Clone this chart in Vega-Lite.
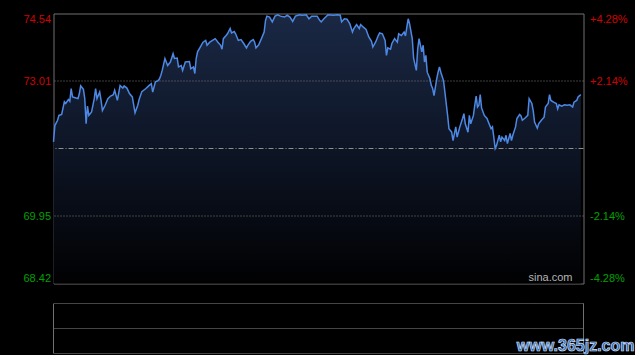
{
  "$schema": "https://vega.github.io/schema/vega-lite/v6.json",
  "background": "#000000",
  "padding": {"left": 21.5, "top": 10.5, "right": 0, "bottom": 0},
  "spacing": 20,
  "bounds": "flush",
  "config": {"font": "Liberation Sans"},
  "datasets": {
    "price": [
      {"t":0,"p":71.63},{"t":1,"p":72.00},{"t":3,"p":72.12},{"t":4,"p":72.23},{"t":6,"p":72.25},{"t":8,"p":72.54},{"t":9,"p":72.50},{"t":11,"p":72.59},{"t":12,"p":72.55},{"t":13,"p":72.84},{"t":14,"p":72.65},{"t":16,"p":72.63},{"t":18,"p":72.61},{"t":19,"p":72.72},{"t":20,"p":72.90},{"t":22,"p":72.82},{"t":23,"p":72.61},{"t":24,"p":72.04},{"t":25,"p":72.44},{"t":26,"p":72.23},{"t":28,"p":72.31},{"t":30,"p":72.61},{"t":31,"p":72.84},{"t":32,"p":72.61},{"t":34,"p":72.76},{"t":35,"p":72.57},{"t":36,"p":72.34},{"t":38,"p":72.46},{"t":40,"p":72.61},{"t":42,"p":72.67},{"t":44,"p":72.70},{"t":45,"p":72.80},{"t":47,"p":72.57},{"t":49,"p":72.91},{"t":51,"p":72.85},{"t":52,"p":72.90},{"t":54,"p":72.85},{"t":56,"p":72.72},{"t":58,"p":72.65},{"t":60,"p":72.29},{"t":62,"p":72.46},{"t":63,"p":72.59},{"t":65,"p":72.77},{"t":68,"p":72.84},{"t":70,"p":72.90},{"t":72,"p":72.95},{"t":73,"p":72.76},{"t":75,"p":72.99},{"t":77,"p":73.02},{"t":78,"p":73.06},{"t":79,"p":73.14},{"t":80,"p":73.25},{"t":82,"p":73.52},{"t":84,"p":73.36},{"t":86,"p":73.44},{"t":88,"p":73.63},{"t":89,"p":73.52},{"t":91,"p":73.53},{"t":92,"p":73.33},{"t":94,"p":73.36},{"t":95,"p":73.25},{"t":97,"p":73.44},{"t":100,"p":73.45},{"t":101,"p":73.29},{"t":103,"p":73.33},{"t":104,"p":73.18},{"t":105,"p":73.52},{"t":106,"p":73.67},{"t":108,"p":73.78},{"t":110,"p":73.89},{"t":112,"p":73.93},{"t":113,"p":73.82},{"t":115,"p":73.89},{"t":117,"p":73.93},{"t":119,"p":73.97},{"t":121,"p":73.89},{"t":123,"p":73.82},{"t":124,"p":73.73},{"t":125,"p":73.97},{"t":127,"p":74.04},{"t":128,"p":74.08},{"t":130,"p":74.20},{"t":131,"p":74.10},{"t":133,"p":74.13},{"t":134,"p":74.08},{"t":136,"p":73.93},{"t":138,"p":73.95},{"t":140,"p":73.86},{"t":142,"p":73.76},{"t":143,"p":73.82},{"t":145,"p":73.91},{"t":147,"p":73.95},{"t":148,"p":73.89},{"t":149,"p":73.76},{"t":151,"p":73.83},{"t":153,"p":73.97},{"t":155,"p":74.12},{"t":156,"p":74.38},{"t":157,"p":74.48},{"t":159,"p":74.46},{"t":161,"p":74.35},{"t":163,"p":74.48},{"t":165,"p":74.51},{"t":167,"p":74.48},{"t":170,"p":74.46},{"t":172,"p":74.50},{"t":174,"p":74.46},{"t":176,"p":74.36},{"t":178,"p":74.48},{"t":181,"p":74.51},{"t":183,"p":74.50},{"t":186,"p":74.51},{"t":188,"p":74.42},{"t":190,"p":74.48},{"t":192,"p":74.48},{"t":194,"p":74.48},{"t":196,"p":74.38},{"t":197,"p":74.35},{"t":199,"p":74.42},{"t":202,"p":74.51},{"t":206,"p":74.50},{"t":209,"p":74.51},{"t":211,"p":74.50},{"t":212,"p":74.35},{"t":214,"p":74.42},{"t":216,"p":74.41},{"t":218,"p":74.31},{"t":220,"p":74.12},{"t":221,"p":74.20},{"t":223,"p":74.29},{"t":225,"p":74.20},{"t":226,"p":74.29},{"t":228,"p":74.23},{"t":230,"p":74.18},{"t":232,"p":74.01},{"t":234,"p":73.91},{"t":235,"p":73.78},{"t":237,"p":73.89},{"t":239,"p":74.04},{"t":240,"p":74.10},{"t":242,"p":74.08},{"t":244,"p":73.93},{"t":245,"p":73.59},{"t":246,"p":73.76},{"t":248,"p":73.73},{"t":249,"p":73.86},{"t":251,"p":73.97},{"t":253,"p":73.89},{"t":254,"p":74.08},{"t":256,"p":74.04},{"t":258,"p":74.12},{"t":259,"p":74.03},{"t":260,"p":74.23},{"t":261,"p":74.42},{"t":262,"p":74.31},{"t":264,"p":73.97},{"t":265,"p":73.52},{"t":267,"p":73.25},{"t":268,"p":73.74},{"t":269,"p":73.97},{"t":271,"p":73.67},{"t":272,"p":73.82},{"t":273,"p":73.44},{"t":274,"p":73.59},{"t":275,"p":73.21},{"t":277,"p":73.06},{"t":278,"p":72.91},{"t":279,"p":72.84},{"t":280,"p":72.68},{"t":282,"p":73.06},{"t":283,"p":73.21},{"t":284,"p":73.33},{"t":285,"p":73.21},{"t":287,"p":73.02},{"t":288,"p":72.76},{"t":290,"p":72.23},{"t":291,"p":71.93},{"t":293,"p":71.85},{"t":294,"p":71.66},{"t":296,"p":71.97},{"t":297,"p":71.74},{"t":299,"p":71.97},{"t":301,"p":72.16},{"t":302,"p":72.27},{"t":303,"p":72.04},{"t":305,"p":71.85},{"t":306,"p":72.23},{"t":307,"p":72.04},{"t":309,"p":72.23},{"t":310,"p":72.46},{"t":311,"p":72.67},{"t":312,"p":72.42},{"t":313,"p":72.46},{"t":314,"p":72.70},{"t":315,"p":72.40},{"t":317,"p":72.23},{"t":319,"p":72.16},{"t":320,"p":72.08},{"t":322,"p":71.93},{"t":323,"p":71.97},{"t":324,"p":71.74},{"t":325,"p":71.48},{"t":326,"p":71.55},{"t":328,"p":71.78},{"t":329,"p":71.63},{"t":330,"p":71.74},{"t":332,"p":71.66},{"t":333,"p":71.78},{"t":334,"p":71.59},{"t":336,"p":71.82},{"t":337,"p":71.66},{"t":338,"p":71.78},{"t":340,"p":71.97},{"t":341,"p":72.16},{"t":343,"p":72.25},{"t":344,"p":72.22},{"t":345,"p":72.12},{"t":347,"p":72.17},{"t":349,"p":72.23},{"t":350,"p":72.61},{"t":352,"p":72.50},{"t":353,"p":72.34},{"t":354,"p":72.08},{"t":356,"p":71.94},{"t":357,"p":72.04},{"t":359,"p":72.12},{"t":361,"p":72.19},{"t":362,"p":72.42},{"t":364,"p":72.50},{"t":365,"p":72.70},{"t":366,"p":72.57},{"t":368,"p":72.53},{"t":370,"p":72.50},{"t":371,"p":72.38},{"t":372,"p":72.47},{"t":374,"p":72.44},{"t":376,"p":72.47},{"t":378,"p":72.46},{"t":380,"p":72.47},{"t":382,"p":72.42},{"t":383,"p":72.53},{"t":385,"p":72.57},{"t":386,"p":72.65},{"t":388,"p":72.70}
    ]
  },
  "vconcat": [
    {
      "width": 530,
      "height": 270,
      "view": {"stroke": "#707070", "strokeWidth": 1},
      "resolve": {"axis": {"y": "independent"}},
      "layer": [
        {
          "data": {"name": "price"},
          "mark": {
            "type": "area",
            "color": {
              "gradient": "linear", "x1": 0, "y1": 0, "x2": 0, "y2": 1,
              "stops": [
                {"offset": 0, "color": "#1a2844"},
                {"offset": 0.55, "color": "#0c1322"},
                {"offset": 1, "color": "#010102"}
              ]
            }
          },
          "encoding": {
            "x": {"field": "t", "type": "quantitative", "scale": {"domain": [0, 390], "nice": false, "zero": false}, "axis": null},
            "y": {
              "field": "p", "type": "quantitative",
              "scale": {"domain": [68.42, 74.54], "nice": false, "zero": false},
              "axis": {
                "orient": "left", "title": null, "values": [68.42, 69.95, 73.01, 74.54], "format": ".2f",
                "labelFlush": true, "labelOverlap": false, "domain": false, "ticks": false, "tickSize": 0, "grid": false,
                "labelPadding": 3, "labelFontSize": 11, "labelFont": "Liberation Sans",
                "labelColor": {"condition": {"test": "datum.value > 71.48", "value": "#d20000"}, "value": "#00a000"}
              }
            },
            "y2": {"datum": 68.42}
          }
        },
        {
          "data": {"values": [{"p": 73.01}, {"p": 69.95}]},
          "mark": {"type": "rule", "color": "#7c7c7c", "strokeDash": [1, 2], "strokeWidth": 1},
          "encoding": {
            "y": {
              "field": "p", "type": "quantitative",
              "scale": {"domain": [68.42, 74.54], "nice": false, "zero": false},
              "axis": {
                "orient": "right", "title": null, "values": [68.42, 69.95, 73.01, 74.54],
                "labelExpr": "(datum.value > 71.48 ? '+' : '-') + format(abs(datum.value / 71.48 - 1) * 100, '.2f') + '%'",
                "labelFlush": true, "labelOverlap": false, "domain": false, "ticks": false, "tickSize": 0, "grid": false,
                "labelPadding": 6, "labelFontSize": 11, "labelFont": "Liberation Sans",
                "labelColor": {"condition": {"test": "datum.value > 71.48", "value": "#d20000"}, "value": "#00a000"}
              }
            }
          }
        },
        {
          "data": {"values": [{"p": 71.48}]},
          "mark": {"type": "rule", "color": "#8e8e8e", "strokeDash": [5, 2, 1, 2], "strokeWidth": 1},
          "encoding": {
            "y": {"field": "p", "type": "quantitative", "scale": {"domain": [68.42, 74.54], "nice": false, "zero": false}, "axis": null}
          }
        },
        {
          "data": {"name": "price"},
          "mark": {"type": "line", "color": "#4d88e4", "strokeWidth": 1.5},
          "encoding": {
            "x": {"field": "t", "type": "quantitative", "scale": {"domain": [0, 390], "nice": false, "zero": false}, "axis": null},
            "y": {"field": "p", "type": "quantitative", "scale": {"domain": [68.42, 74.54], "nice": false, "zero": false}, "axis": null}
          }
        },
        {
          "data": {"values": [{"label": "sina.com"}]},
          "mark": {"type": "text", "align": "right", "baseline": "bottom", "dx": -11, "dy": -1, "fontSize": 11, "font": "Liberation Sans", "color": "#b4b4b4"},
          "encoding": {
            "x": {"datum": 390, "type": "quantitative", "scale": {"domain": [0, 390], "nice": false, "zero": false}, "axis": null},
            "y": {"datum": 68.42, "type": "quantitative", "scale": {"domain": [68.42, 74.54], "nice": false, "zero": false}, "axis": null},
            "text": {"field": "label"}
          }
        }
      ]
    },
    {
      "width": 530,
      "height": 50,
      "view": {"stroke": null},
      "layer": [
        {
          "data": {"values": [{"v": 0}, {"v": 1}, {"v": 2}]},
          "mark": {"type": "rule", "color": "#8a8a8a", "strokeDash": [1, 1], "strokeWidth": 1},
          "encoding": {
            "y": {"field": "v", "type": "quantitative", "scale": {"domain": [0, 2], "nice": false, "zero": false}, "axis": null}
          }
        },
        {
          "data": {"values": [{"t": 0}, {"t": 390}]},
          "mark": {"type": "rule", "color": "#707070", "strokeWidth": 1},
          "encoding": {
            "x": {"field": "t", "type": "quantitative", "scale": {"domain": [0, 390], "nice": false, "zero": false}, "axis": null}
          }
        },
        {
          "data": {"values": [{"w": "www.365jz.com"}]},
          "mark": {"type": "text", "align": "right", "baseline": "alphabetic", "dx": 51, "dy": -3, "fontSize": 16, "fontWeight": "bold", "font": "Liberation Sans", "color": "#2f63b0", "stroke": "#d6e4ff", "strokeWidth": 0.7},
          "encoding": {
            "x": {"datum": 390, "type": "quantitative", "scale": {"domain": [0, 390], "nice": false, "zero": false}, "axis": null},
            "y": {"datum": 0, "type": "quantitative", "scale": {"domain": [0, 2], "nice": false, "zero": false}, "axis": null},
            "text": {"field": "w"}
          }
        }
      ]
    }
  ]
}
